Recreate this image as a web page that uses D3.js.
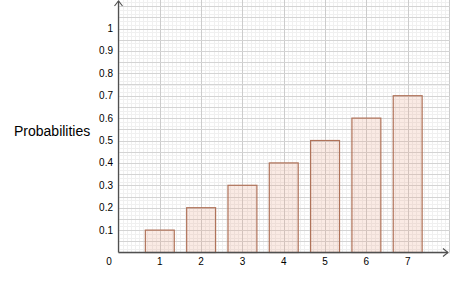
<!DOCTYPE html>
<html>
<head>
<meta charset="utf-8">
<script src="https://cdn.jsdelivr.net/npm/d3@7"></script>
<style>
  body { margin: 0; background: #fff; }
  svg { display: block; font-family: "Liberation Sans", Arial, sans-serif; }
</style>
</head>
<body>
<div id="viz"></div>
<script>
const outcomes = [1, 2, 3, 4, 5, 6, 7];
const probabilities = [0.1, 0.2, 0.3, 0.4, 0.5, 0.6, 0.7];
const yTicks = [0.1, 0.2, 0.3, 0.4, 0.5, 0.6, 0.7, 0.8, 0.9, 1];
const yLabel = "Probabilities";

const width = 450;
const height = 292;

const svg = d3.select("#viz").append("svg")
  .attr("width", width)
  .attr("height", height);

// axes origin at (118.5, 252.5), 1 unit on x is ~41.3px, 0.1 on y is ~22.4px
const x = d3.scaleLinear().domain([0, 8]).range([118.5, 449]);
const y = d3.scaleLinear().domain([0, 1.125]).range([252.5, 0.5]);

const grid = svg.append("g");

// minor grid
const xMinor = d3.range(0, 8.01, 0.1);
const yMinor = d3.range(0, 1.13, 0.05 / 3);
grid.selectAll("line.xm").data(xMinor).enter().append("line")
  .attr("x1", d => Math.round(x(d)) + 0.5).attr("x2", d => Math.round(x(d)) + 0.5)
  .attr("y1", 0).attr("y2", y(0))
  .attr("stroke", "#f0f0f0").attr("stroke-width", 1);
grid.selectAll("line.ym").data(yMinor).enter().append("line")
  .attr("y1", d => Math.round(y(d)) + 0.5).attr("y2", d => Math.round(y(d)) + 0.5)
  .attr("x1", x(0)).attr("x2", width)
  .attr("stroke", "#f0f0f0").attr("stroke-width", 1);

// major grid
const xMajor = d3.range(1, 9, 1);
const yMajor = d3.range(0.05, 1.13, 0.05);
grid.selectAll("line.xM").data(xMajor).enter().append("line")
  .attr("x1", d => Math.round(x(d)) + 0.5).attr("x2", d => Math.round(x(d)) + 0.5)
  .attr("y1", 0).attr("y2", y(0))
  .attr("stroke", "#cccccc").attr("stroke-width", 1);
grid.selectAll("line.yM").data(yMajor).enter().append("line")
  .attr("y1", d => Math.round(y(d)) + 0.5).attr("y2", d => Math.round(y(d)) + 0.5)
  .attr("x1", x(0)).attr("x2", width)
  .attr("stroke", "#d4d4d4").attr("stroke-width", 1);

// bars
svg.append("g").selectAll("rect").data(outcomes).enter().append("rect")
  .attr("x", (d) => x(d - 0.35))
  .attr("y", (d, i) => y(probabilities[i]))
  .attr("width", x(0.7) - x(0))
  .attr("height", (d, i) => y(0) - y(probabilities[i]))
  .attr("fill", "rgba(230, 160, 130, 0.22)")
  .attr("stroke", "#b0735a")
  .attr("stroke-width", 1.2);

// axes
const axisColor = "#505050";
svg.append("line")
  .attr("x1", x(0)).attr("x2", width - 2)
  .attr("y1", y(0)).attr("y2", y(0))
  .attr("stroke", axisColor).attr("stroke-width", 1.3);
svg.append("line")
  .attr("x1", x(0)).attr("x2", x(0))
  .attr("y1", y(0)).attr("y2", 1)
  .attr("stroke", axisColor).attr("stroke-width", 1.3);

// arrow heads
svg.append("path")
  .attr("d", `M ${width - 7} ${y(0) - 4} L ${width - 2} ${y(0)} L ${width - 7} ${y(0) + 4}`)
  .attr("fill", "none").attr("stroke", axisColor).attr("stroke-width", 1.1);
svg.append("path")
  .attr("d", `M ${x(0) - 4} 6 L ${x(0)} 1 L ${x(0) + 4} 6`)
  .attr("fill", "none").attr("stroke", axisColor).attr("stroke-width", 1.1);

// tick labels
svg.append("g").selectAll("text").data(yTicks).enter().append("text")
  .attr("x", 113)
  .attr("y", d => y(d))
  .attr("dy", "0.35em")
  .attr("text-anchor", "end")
  .attr("font-size", 10)
  .attr("fill", "#000")
  .text(d => d3.format("~g")(d));

svg.append("g").selectAll("text").data(outcomes).enter().append("text")
  .attr("x", d => x(d))
  .attr("y", 261)
  .attr("dy", "0.35em")
  .attr("text-anchor", "middle")
  .attr("font-size", 10)
  .attr("fill", "#000")
  .text(d => d);

svg.append("text")
  .attr("x", 109).attr("y", 261).attr("dy", "0.35em")
  .attr("text-anchor", "middle")
  .attr("font-size", 10)
  .text("0");

svg.append("text")
  .attr("x", 14).attr("y", 131).attr("dy", "0.35em")
  .attr("font-size", 14)
  .attr("fill", "#000")
  .text(yLabel);
</script>
</body>
</html>
